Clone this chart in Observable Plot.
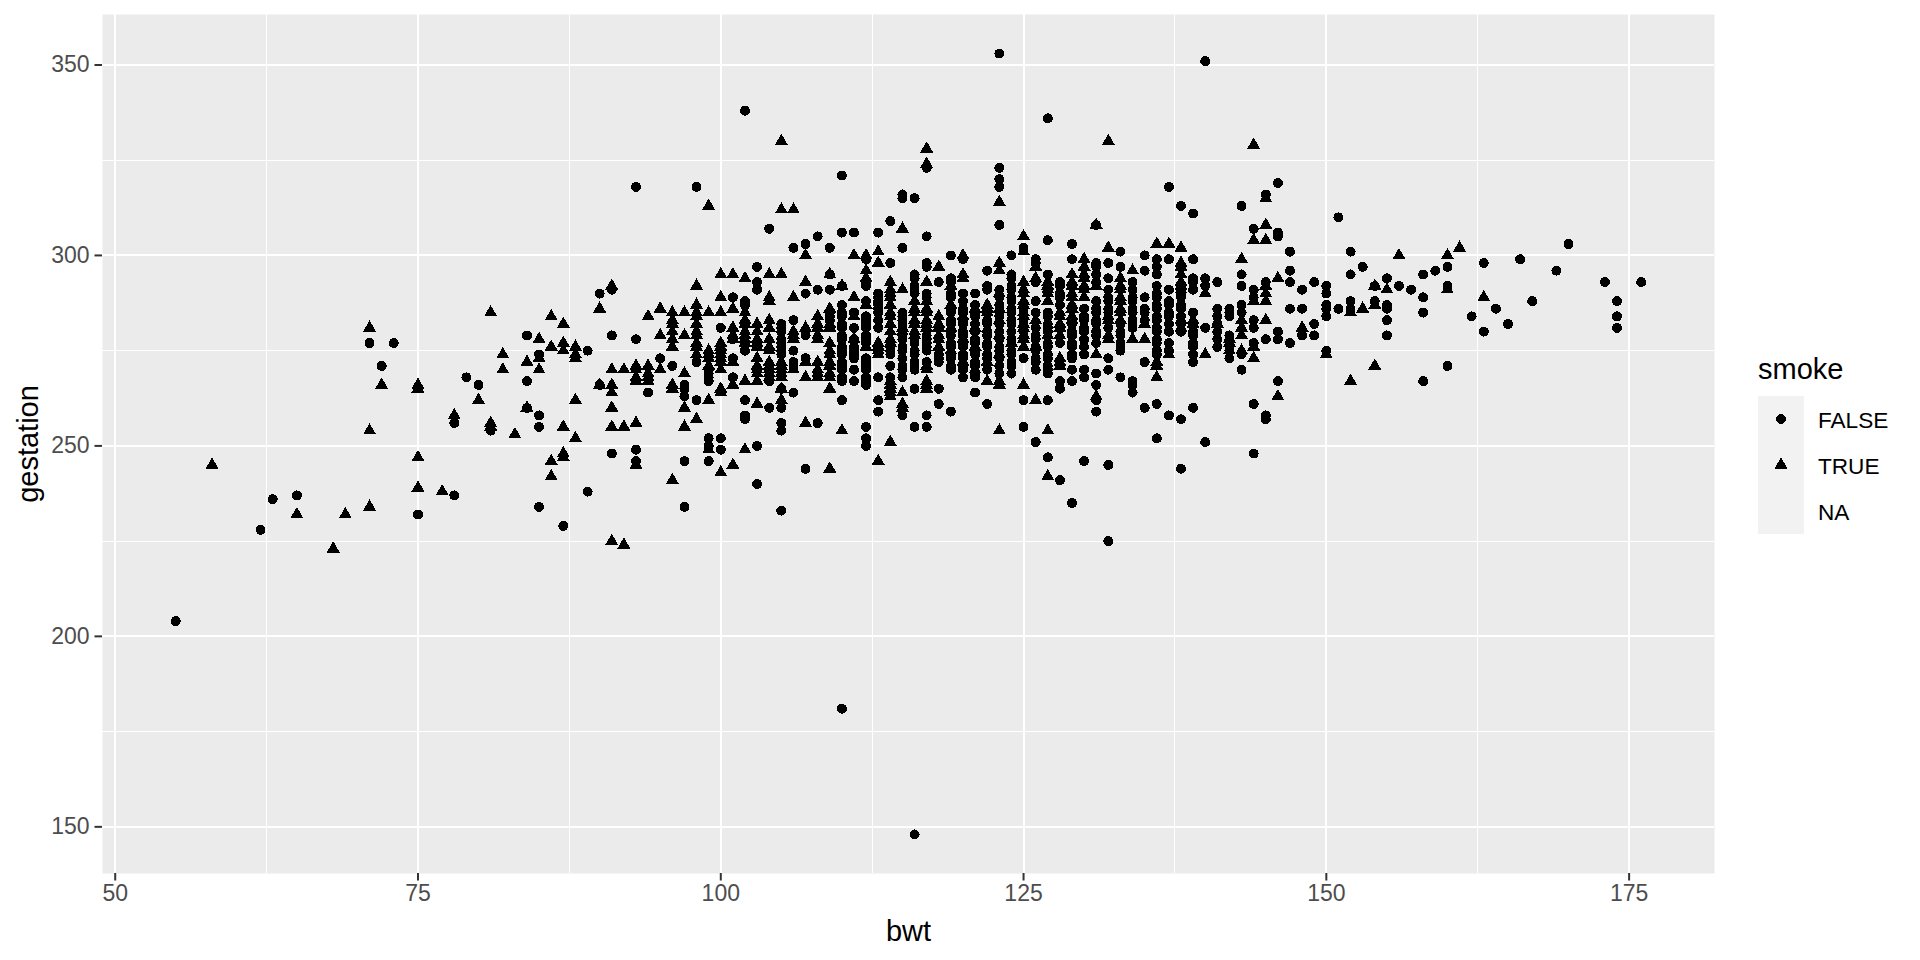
<!DOCTYPE html>
<html>
<head>
<meta charset="utf-8">
<script src="https://cdn.jsdelivr.net/npm/d3@7"></script>
<script src="https://cdn.jsdelivr.net/npm/@observablehq/plot@0.6"></script>
<style>
html,body{margin:0;padding:0;background:#fff}
#wrap{position:relative;width:1920px;height:960px;overflow:hidden;font-family:"Liberation Sans",Arial,sans-serif}
#legend{position:absolute;left:1758px;top:352px;color:#000}
#legend .t{font-size:29px;line-height:34px;height:44px}
#legend .r{display:flex;align-items:center;height:46px}
#legend .k{width:46px;height:46px;background:#f2f2f2;display:block}
#legend .l{font-size:22.6px;margin-left:14px;position:relative;top:2px}
</style>
</head>
<body>
<div id="wrap"></div>
<script>
const xMajor=[50,75,100,125,150,175];
const xMinor=[62.5,87.5,112.5,137.5,162.5];
const yMajor=[150,200,250,300,350];
const yMinor=[175,225,275,325];
const xDomain=[48.95,182.05];
const yDomain=[137.75,363.25];
// each row: bwt, then the gestation values read at that bwt
const smokeFalse=[
[55,204],[62,228],[63,236],[65,237],[71,277],[72,271],[73,277],[75,232],[78,256,237],[79,268],[80,266],[81,254],
[84,279,267,260],[85,274,258,255,234],[87,229],[89,275,238],[90,290,266],[91,291,279,248],[93,318,278,249,246],
[94,264],[95,273],[96,271],[97,266,265,263,246,234],[98,318,272,262],[99,270,269,268,267,252,250,246],
[100,281,252,249],[101,289,278,273,268],[102,338,288,287,275,262,258,257],[103,297,293,291,250,240],
[104,307,267,260],[105,282,281,280,278,277,276,275,274,265,260,256,254,233],
[106,302,283,275,272,271,264],[107,303,290,280,279,273,244],[108,305,291,256],[109,302,295,291,285,284,283],
[110,321,306,292,287,285,284,282,281,279,278,276,275,274,272,271,270,268,267,262,181],
[111,306,285,281,278,276,275,274,273,270,267],
[112,299,293,292,288,284,283,282,281,279,278,277,273,272,271,270,268,267,266,255,252,250],
[113,306,290,289,288,287,286,285,283,281,268,262,259],
[114,309,298,276,275,274,271,268],
[115,316,315,302,285,284,283,282,279,278,276,275,273,271,270,268,258],
[116,315,295,294,292,291,290,278,277,275,274,272,271,270,265,255,148],
[117,323,305,298,297,290,289,279,278,277,276,275,272,258,255],
[118,293,274,273,272,265,261],
[119,300,294,293,290,289,286,285,283,282,280,279,277,276,274,273,271,270,259],
[120,299,290,288,286,285,283,282,280,279,277,276,274,273,271,270,268],
[121,290,287,285,284,282,280,278,277,275,274,272,271,269,268,264],
[122,296,292,291,283,282,280,279,277,276,274,273,270,261],
[123,353,323,320,318,308,291,289,287,285,284,282,280,278,276,275,273,271,269],
[124,300,295,294,292,291,289,288,286,285,283,282,280,278,277,275,274,272,271,269],
[125,302,286,283,280,273,262,255],
[126,299,298,293,288,285,281,279,278,276,275,273,272,270,251],
[127,336,304,295,285,284,282,281,280,277,276,274,273,271,270,269,262,247],
[128,293,292,290,289,287,277,267,265,241],
[129,303,299,282,280,279,277,276,274,273,270,267,235],
[130,286,284,283,281,280,278,276,274,270,268,246],
[131,308,298,297,295,293,288,286,285,283,282,280,279,277,269,266,262,259],
[132,298,294,291,289,288,286,285,281,273,270,245,225],
[133,301,297,282,280,279,277,276,275,268],
[134,293,291,289,288,286,285,283,282,281,267,266,264],
[135,300,296,289,286,285,283,272,260],
[136,299,297,295,292,290,289,287,286,284,283,281,280,278,277,275,274,261,252],
[137,318,299,291,288,287,285,284,282,280,277,275,258],
[138,313,290,289,287,286,284,282,280,257,244],
[139,311,299,294,293,291,285,282,280,279,277,276,274,272,260],
[140,351,294,292,281,251],
[141,293,286,284,282,280,278,276],
[142,286,285,284,279,278,276,275,273],
[143,313,295,292,287,285,274,270],
[144,307,291,289,283,281,277,261,248],
[145,316,293,278,258,257],
[146,319,306,305,280,278,267],
[147,301,296,293,286,277],
[148,291,286,279],
[149,293,282,279],
[150,292,290,287,286,284,275],
[151,310,286],
[152,301,295,288,286],
[153,297],
[154,292,288],
[155,294,287,286,283,279],
[156,292],[157,291],[158,295,289,285,267],[159,296],[160,297,292,271],[162,284],[163,298,280],[164,286],
[165,282],[166,299],[167,288],[169,296],[170,303],[173,293],[174,288,284,281],[176,293]
];
const smokeTrue=[
[58,245],[65,232],[68,223],[69,232],[71,281,254,234],[72,266],[75,266,265,247,239],[77,238],[78,258],[80,262],
[81,285,256,255],[82,274,270],[83,253],[84,272,260],[85,278,273,270],[86,284,276,246,242],[87,282,277,275,255,248,247],
[88,276,274,273,262,252],[90,286,266],[91,292,270,266,264,260,255,225],[92,270,255,224],
[93,271,270,268,267,256,245],[94,284,271,269,268,267],[95,286,279,270],
[96,285,283,282,280,278,276,266,265,241],[97,285,279,269,260,255],
[98,292,287,285,284,282,280,279,277,276,274,257],[99,313,285,275,274,273,271,262,249],
[100,295,289,285,277,276,275,274,273,272,270,265,264,243],[101,295,286,281,279,278,272,266,245],
[102,294,285,283,282,280,279,278,277,267,249],[103,282,280,278,277,276,273,271,270,269,267,261],
[104,295,289,288,283,281,278,276,275,272,271,270,269,268],[105,330,312,295,272,271,270,269,268,265,262],
[106,312,289,280,279,278,270],[107,300,293,281,272,268,256],[108,284,282,281,279,278,272,270,269,268],
[109,295,286,282,281,277,275,274,272,271,269,268,265,244],[110,292,254],[111,300,289,284,278],
[112,300,296,294,287,276],[113,301,298,277,276,275,274,246],
[114,293,291,290,289,287,285,284,282,280,278,277,267,266,265,264,263,251],[115,307,291,281,280,264,261,260],
[116,288,286,285,283,282,280,279],
[117,328,324,293,288,286,285,283,282,281,271,270,267,266,265],
[118,297,284,282,281,279,278,276],[119,292,287,281,275],[120,300,295,294,284,278,272],
[121,286,281,276,270],[122,287,286,285,272,267],[123,314,298,296,290,286,283,279,274,267,266,254],[124,277],
[125,305,301,293,291,290,288,287,285,284,282,281,279,278,276,266],
[126,297,294,283,276,262],[127,293,292,291,290,288,279,254,242],
[128,285,284,282,281,279,273,272,271],
[129,295,293,292,290,289,287,286,284,283],
[130,299,297,295,294,292,291,289],[131,308,292,274,263],
[132,330,302,284,283,279,278],[133,294,292,291,289,288,286,285,283],
[134,296,278],[135,282,278],[136,303,272,271,268],[137,303,274],
[138,302,298,297,295,293,292,291,283,281],[139,283,282],[140,290,274],[141,282],
[142,278,277,275],[143,299,283,281,279,275],[144,329,304,288,276,273],
[145,315,308,304,292,290,288,283],[146,294,263],[148,281],[150,274],[152,285,267],
[153,286],[154,292,287,271],[155,291],[156,300],[160,300,291],[161,302],[163,289]
];
const falsePoints=smokeFalse.flatMap(([b,...g])=>g.map(v=>({bwt:b,gestation:v})));
const truePoints=smokeTrue.flatMap(([b,...g])=>g.map(v=>({bwt:b,gestation:v})));
const legendLevels=["FALSE","TRUE","NA"];

const grid=(o)=>({stroke:"#fff",shapeRendering:"crispEdges",...o});
const chart=Plot.plot({
  width:1920,height:960,
  marginLeft:102,marginRight:206,marginTop:14,marginBottom:87,
  style:{fontFamily:'"Liberation Sans",Arial,sans-serif',background:"#fff"},
  x:{domain:xDomain,label:null},
  y:{domain:yDomain,label:null},
  marks:[
    Plot.frame({fill:"#ebebeb",stroke:null}),
    Plot.ruleX(xMinor,grid({strokeWidth:1})),
    Plot.ruleY(yMinor,grid({strokeWidth:1})),
    Plot.ruleX(xMajor,grid({strokeWidth:2})),
    Plot.ruleY(yMajor,grid({strokeWidth:2})),
    Plot.axisX({ticks:xMajor,tickSize:7.5,tickPadding:4,fontSize:23,stroke:"#333",fill:"#4d4d4d",strokeWidth:2,label:null,tickFormat:d=>String(d)}),
    Plot.axisY({ticks:yMajor,tickSize:7.5,tickPadding:5.5,fontSize:23,stroke:"#333",fill:"#4d4d4d",strokeWidth:2,label:null,tickFormat:d=>String(d)}),
    Plot.axisX({ticks:[],label:"bwt",labelAnchor:"center",labelArrow:"none",labelOffset:67,fontSize:29,fill:"#000",tickSize:0}),
    Plot.axisY({ticks:[],label:"gestation",labelAnchor:"center",labelArrow:"none",labelOffset:85,fontSize:29,fill:"#000",tickSize:0}),
    Plot.dot(truePoints,{x:"bwt",y:"gestation",symbol:"triangle",r:4.85,fill:"#000",stroke:null,shapeRendering:"crispEdges"}),
    Plot.dot(falsePoints,{x:"bwt",y:"gestation",symbol:"circle",r:5,fill:"#000",stroke:null,shapeRendering:"crispEdges"})
  ]
});
document.getElementById("wrap").appendChild(chart);

const legend=d3.select("#wrap").append("div").attr("id","legend");
legend.append("div").attr("class","t").text("smoke");
const shapes={FALSE:d3.symbolCircle,TRUE:d3.symbolTriangle};
legendLevels.forEach(level=>{
  const row=legend.append("div").attr("class","r");
  const key=row.append("svg").attr("class","k").attr("width",46).attr("height",46);
  if(shapes[level]) key.append("path")
    .attr("transform","translate(23,23)")
    .attr("shape-rendering","crispEdges")
    .attr("d",d3.symbol(shapes[level],Math.PI*24)());
  row.append("div").attr("class","l").text(level);
});
</script>
</body>
</html>
